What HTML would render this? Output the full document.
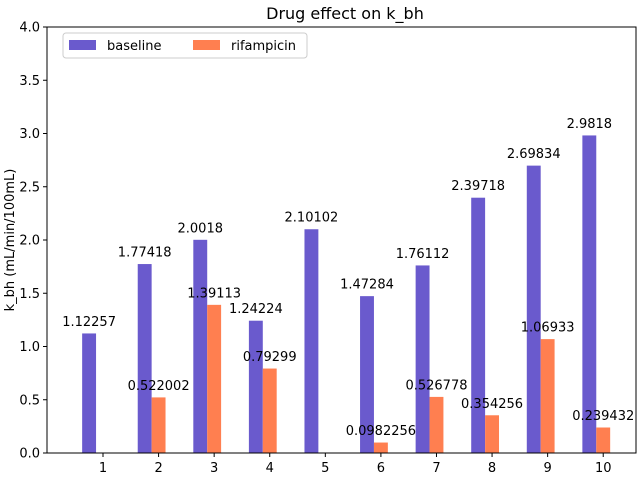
<!DOCTYPE html>
<html><head><meta charset="utf-8"><style>
body{margin:0;background:#fff;}
svg{display:block;font-family:"DejaVu Sans","Liberation Sans",sans-serif;}
</style></head><body>
<svg id="chart" width="640" height="480" xmlns="http://www.w3.org/2000/svg">
<rect width="640" height="480" fill="#fff"/>
<text x="345" y="19" font-size="16" text-anchor="middle">Drug effect on k_bh</text>
<text transform="translate(14,240) rotate(-90)" font-size="13" text-anchor="middle">k_bh (mL/min/100mL)</text>
<g id="bars"></g>
<g id="axes"></g>
<g>
<rect x="63" y="33" width="244" height="25" rx="3" fill="#fff" stroke="#ccc"/>
<rect x="69" y="40" width="27" height="10" fill="#6a5acd"/>
<text x="107" y="50" font-size="13">baseline</text>
<rect x="193" y="40" width="27" height="10" fill="#ff7f50"/>
<text x="231" y="50" font-size="13">rifampicin</text>
</g>
</svg>
<script>
const categories=[1,2,3,4,5,6,7,8,9,10];
const baseline=[1.12257,1.77418,2.0018,1.24224,2.10102,1.47284,1.76112,2.39718,2.69834,2.9818];
const rifampicin=[0,0.522002,1.39113,0.79299,0,0.0982256,0.526778,0.354256,1.06933,0.239432];
const yTicks=[0,0.5,1,1.5,2,2.5,3,3.5,4];
const yTickLabels=["0.0","0.5","1.0","1.5","2.0","2.5","3.0","3.5","4.0"];
const L=47,R=636,T=27,B=453;
const xs=v=>103+(v-1)*55.58;
const ys=v=>B-(v/4)*(B-T);
const NS="http://www.w3.org/2000/svg";
const bw=13.9;
const bars=document.getElementById('bars');
const axes=document.getElementById('axes');
function mk(tag,attrs,parent){const e=document.createElementNS(NS,tag);for(const k in attrs)e.setAttribute(k,attrs[k]);parent.appendChild(e);return e;}
function fmt(v){return String(v);}
categories.forEach((c,i)=>{
 [[baseline,"#6a5acd",-bw,"baseline"],[rifampicin,"#ff7f50",0,"rifampicin"]].forEach(([arr,col,off,nm])=>{
  const v=arr[i];
  const x=xs(c)+off-bw/2;
  const r=mk('rect',{x:x,y:ys(v),width:bw,height:B-ys(v),fill:col},bars);
  
  
  if(v>0){
   const t=mk('text',{x:x+bw/2,y:ys(v)-7.5,'font-size':13,'text-anchor':'middle'},bars);
   t.textContent=fmt(v);
   
   
  }
 });
});
const frame=mk('rect',{x:L,y:T,width:R-L,height:B-T,fill:'none',stroke:'#000','stroke-width':1},axes);


yTicks.forEach((v,i)=>{
 mk('line',{x1:L-4,x2:L,y1:ys(v),y2:ys(v),stroke:'#000'},axes);
 const t=mk('text',{x:L-7,y:ys(v)+4.5,'font-size':13,'text-anchor':'end'},axes);
 t.textContent=yTickLabels[i];
 
 
});
categories.forEach(c=>{
 mk('line',{x1:xs(c),x2:xs(c),y1:B,y2:B+4,stroke:'#000'},axes);
 const t=mk('text',{x:xs(c),y:B+19,'font-size':13,'text-anchor':'middle'},axes);
 t.textContent=String(c);
 
 
});
</script>
</body></html>
